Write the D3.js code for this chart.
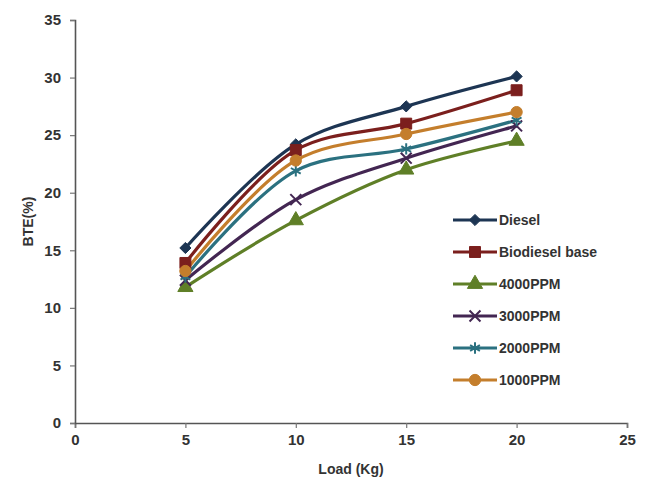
<!DOCTYPE html>
<html>
<head>
<meta charset="utf-8">
<script src="https://cdn.jsdelivr.net/npm/d3@7"></script>
<style>
    body { margin: 0; background: #fff; }
    text { font-family: "Liberation Sans", Arial, sans-serif; }
</style>
</head>
<body>
<svg id="SVG_CONTAINER" width="652" height="478"></svg>
<script>
// load values (x axis)
const loads = [5, 10, 15, 20];

// BTE(%) per series
const diesel     = [15.2, 24.2, 27.5, 30.1];
const biodiesel  = [13.9, 23.7, 26.0, 28.9];
const ppm4000    = [11.8, 17.6, 22.0, 24.5];
const ppm3000    = [12.4, 19.4, 23.0, 25.8];
const ppm2000    = [12.7, 21.9, 23.8, 26.3];
const ppm1000    = [13.2, 22.8, 25.1, 27.0];

const seriesNames = ["Diesel", "Biodiesel base", "4000PPM", "3000PPM", "2000PPM", "1000PPM"];
const xTicks = [0, 5, 10, 15, 20, 25];
const yTicks = [0, 5, 10, 15, 20, 25, 30, 35];

const width = 652, height = 478;
const MARGIN = { LEFT: 75, RIGHT: 25, TOP: 20, BOTTOM: 55 };

const svg = d3.select("#SVG_CONTAINER");

//** SCALES *****************************************
const xScale = d3.scaleLinear()
    .domain([0, 25])
    .range([MARGIN.LEFT, width - MARGIN.RIGHT]);

const yScale = d3.scaleLinear()
    .domain([0, 35])
    .range([height - MARGIN.BOTTOM, MARGIN.TOP]);

const series = [
    { name: seriesNames[0], values: diesel,    color: "#1d3553", symbol: d3.symbolDiamond2, size: 80 },
    { name: seriesNames[1], values: biodiesel, color: "#7b1f1d", symbol: d3.symbolSquare,   size: 120 },
    { name: seriesNames[2], values: ppm4000,   color: "#5f7f27", symbol: d3.symbolTriangle, size: 100 },
    { name: seriesNames[3], values: ppm3000,   color: "#432652", symbol: d3.symbolTimes,    size: 80 },
    { name: seriesNames[4], values: ppm2000,   color: "#2b7180", symbol: d3.symbolAsterisk, size: 90 },
    { name: seriesNames[5], values: ppm1000,   color: "#c47e2c", symbol: d3.symbolCircle,   size: 100 }
];

//** AXES *****************************************
const xAxis = d3.axisBottom(xScale).tickValues(xTicks).tickSize(5).tickPadding(6);
const yAxis = d3.axisLeft(yScale).tickValues(yTicks).tickSize(5).tickPadding(9);

const gx = svg.append("g")
    .attr("transform", "translate(0," + (height - MARGIN.BOTTOM) + ")")
    .call(xAxis);
const gy = svg.append("g")
    .attr("transform", "translate(" + MARGIN.LEFT + ",0)")
    .call(yAxis);

[gx, gy].forEach(g => {
    g.select(".domain").attr("stroke", "#555").attr("stroke-width", 1.6);
    g.selectAll(".tick line").attr("stroke", "#777").attr("stroke-width", 1.2);
    g.selectAll(".tick text")
        .attr("fill", "#333")
        .style("font-size", "15px")
        .style("font-weight", "bold")
        .style("font-family", "'Liberation Sans', Arial, sans-serif");
});

svg.append("text")
    .attr("x", (xScale(0) + xScale(25)) / 2)
    .attr("y", height - 4)
    .attr("text-anchor", "middle")
    .attr("fill", "#333")
    .style("font-size", "14px")
    .style("font-weight", "bold")
    .text("Load (Kg)");

svg.append("text")
    .attr("transform", "translate(33," + yScale(17.5) + ") rotate(-90)")
    .attr("text-anchor", "middle")
    .attr("fill", "#333")
    .style("font-size", "14px")
    .style("font-weight", "bold")
    .text("BTE(%)");

//** LINES *****************************************
const line = d3.line()
    .x((d, i) => xScale(loads[i]))
    .y(d => yScale(d))
    .curve(d3.curveCatmullRom.alpha(0.5));

const lines = svg.append("g").attr("class", "lines");

series.forEach(s => {
    lines.append("path")
        .attr("d", line(s.values))
        .attr("fill", "none")
        .attr("stroke", s.color)
        .attr("stroke-width", 3.2);
});

function drawMarker(g, s, x, y) {
    const sym = d3.symbol().type(s.symbol).size(s.size);
    const open = (s.symbol === d3.symbolTimes || s.symbol === d3.symbolAsterisk);
    g.append("path")
        .attr("d", sym())
        .attr("transform", "translate(" + x + "," + y + ")")
        .attr("fill", open ? "none" : s.color)
        .attr("stroke", s.color)
        .attr("stroke-width", open ? 2 : 1);
}

const markers = svg.append("g").attr("class", "markers");
series.forEach(s => {
    s.values.forEach((v, i) => drawMarker(markers, s, xScale(loads[i]), yScale(v)));
});

//** LEGEND *****************************************
const legend = svg.append("g").attr("class", "legend");
let yLegend = 220;
series.forEach(s => {
    legend.append("line")
        .attr("x1", 453).attr("x2", 497)
        .attr("y1", yLegend).attr("y2", yLegend)
        .attr("stroke", s.color)
        .attr("stroke-width", 3.2);
    drawMarker(legend, s, 475, yLegend);
    legend.append("text")
        .attr("x", 499)
        .attr("y", yLegend + 5)
        .attr("fill", "#333")
        .style("font-size", "14px")
        .style("font-weight", "bold")
        .text(s.name);
    yLegend += 32;
});
</script>
</body>
</html>
